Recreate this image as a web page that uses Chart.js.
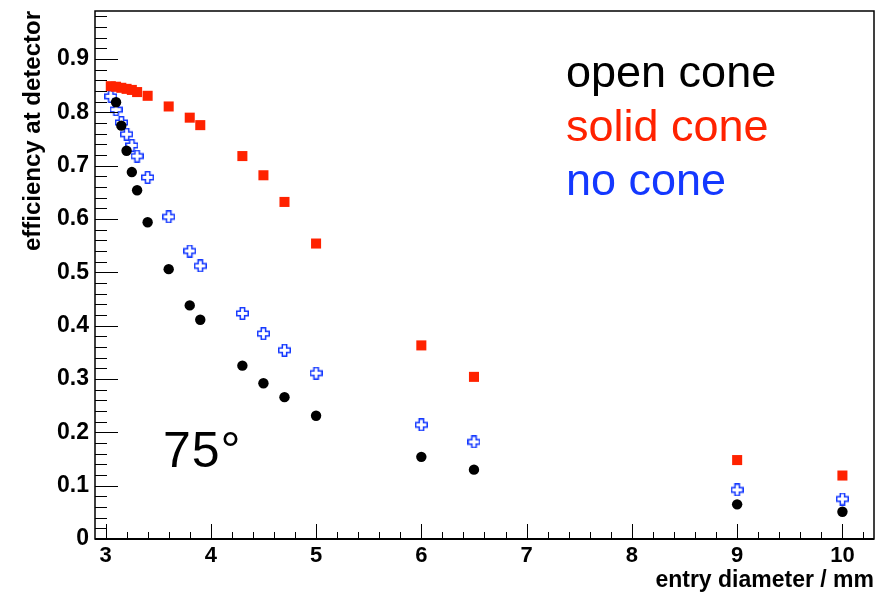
<!DOCTYPE html>
<html>
<head>
<meta charset="utf-8">
<script src="https://cdn.jsdelivr.net/npm/chart.js@4.4.1/dist/chart.umd.min.js"></script>
<style>
  html, body { margin: 0; padding: 0; background: #fff; }
  #wrap { width: 884px; height: 594px; }
</style>
</head>
<body>
<div id="wrap"><canvas id="eff"></canvas></div>
<script>
// entry diameter in mm
const diamSolid = [3.05, 3.1, 3.15, 3.2, 3.25, 3.3, 3.4, 3.6, 3.8, 3.9, 4.3, 4.5, 4.7, 5, 6, 6.5, 9, 10];
const diamOpen  = [3.1, 3.15, 3.2, 3.25, 3.3, 3.4, 3.6, 3.8, 3.9, 4.3, 4.5, 4.7, 5, 6, 6.5, 9, 10];
const diamNone  = [3.05, 3.1, 3.15, 3.2, 3.25, 3.3, 3.4, 3.6, 3.8, 3.9, 4.3, 4.5, 4.7, 5, 6, 6.5, 9, 10];

// efficiency at detector
const effSolid = [0.849, 0.848, 0.846, 0.844, 0.842, 0.838, 0.831, 0.811, 0.790, 0.776, 0.718, 0.682, 0.632, 0.554, 0.363, 0.304, 0.148, 0.119];
const effOpen  = [0.819, 0.775, 0.728, 0.688, 0.654, 0.594, 0.506, 0.438, 0.411, 0.325, 0.292, 0.266, 0.231, 0.154, 0.130, 0.065, 0.051];
const effNone  = [0.830, 0.805, 0.781, 0.759, 0.738, 0.718, 0.678, 0.604, 0.540, 0.512, 0.423, 0.385, 0.354, 0.311, 0.214, 0.182, 0.092, 0.075];

// labelled ticks
const xMajor = [3, 4, 5, 6, 7, 8, 9, 10];
const yMajor = [0, 0.1, 0.2, 0.3, 0.4, 0.5, 0.6, 0.7, 0.8, 0.9];

const seriesNames = ['open cone', 'solid cone', 'no cone'];
const angleLabel = '75°';

const RED = '#ff2200';
const BLUE = '#1438ff';
const FONT = '"Liberation Sans", Arial, sans-serif';

const pts = (xs, ys) => xs.map((x, i) => ({ x: x, y: ys[i] }));

// major ticks plus subdivisions between min and max
function tickList(major, sub, min, max) {
  const step = (major[1] - major[0]) / sub;
  const out = [];
  for (let k = Math.ceil((min - major[0]) / step - 1e-9); ; k++) {
    const v = +(major[0] + k * step).toFixed(6);
    if (v > max + 1e-9) break;
    const isMajor = major.some(m => Math.abs(m - v) < 1e-6);
    out.push({ value: v, major: isMajor });
  }
  return out;
}

// open cross marker (outlined plus sign)
function openCross(size, color) {
  const c = document.createElement('canvas');
  c.width = size; c.height = size;
  const g = c.getContext('2d');
  const a = size / 3;
  const o = 0.75;
  g.beginPath();
  g.moveTo(a, o); g.lineTo(2 * a, o); g.lineTo(2 * a, a); g.lineTo(size - o, a);
  g.lineTo(size - o, 2 * a); g.lineTo(2 * a, 2 * a); g.lineTo(2 * a, size - o);
  g.lineTo(a, size - o); g.lineTo(a, 2 * a); g.lineTo(o, 2 * a); g.lineTo(o, a);
  g.lineTo(a, a); g.closePath();
  g.fillStyle = '#fff';
  g.fill();
  g.lineWidth = 1.5;
  g.strokeStyle = color;
  g.stroke();
  return c;
}

// frame, inward tick marks and text labels
const framePlugin = {
  id: 'frame',
  afterDatasetsDraw(chart) {
    const { ctx, chartArea: a, scales } = chart;
    ctx.save();
    ctx.strokeStyle = '#000';
    ctx.lineWidth = 1;
    ctx.beginPath();
    scales.x.ticks.forEach(t => {
      const px = Math.round(scales.x.getPixelForValue(t.value)) + 0.5;
      const len = t.major ? 15 : 7;
      ctx.moveTo(px, a.bottom);
      ctx.lineTo(px, a.bottom - len);
    });
    scales.y.ticks.forEach(t => {
      const py = Math.round(scales.y.getPixelForValue(t.value)) + 0.5;
      const len = t.major ? 23 : 12;
      ctx.moveTo(a.left, py);
      ctx.lineTo(a.left + len, py);
    });
    ctx.stroke();
    ctx.lineWidth = 1.5;
    ctx.strokeRect(a.left, a.top, a.right - a.left, a.bottom - a.top);
    ctx.lineWidth = 2;
    ctx.beginPath();
    ctx.moveTo(a.left, a.bottom);
    ctx.lineTo(a.right, a.bottom);
    ctx.stroke();

    ctx.textBaseline = 'alphabetic';
    ctx.textAlign = 'left';
    ctx.font = '45px ' + FONT;
    const colors = ['#000', RED, BLUE];
    seriesNames.forEach((s, i) => {
      ctx.fillStyle = colors[i];
      ctx.fillText(s, 566, 87 + i * 54);
    });
    ctx.fillStyle = '#000';
    ctx.font = '50px ' + FONT;
    ctx.letterSpacing = '1px';
    ctx.fillText(angleLabel, 163, 467);
    ctx.restore();
  }
};

new Chart(document.getElementById('eff'), {
  type: 'scatter',
  data: {
    datasets: [
      {
        label: seriesNames[1],
        data: pts(diamSolid, effSolid),
        pointStyle: 'rect',
        pointRadius: 7.1,
        pointHoverRadius: 7.1,
        backgroundColor: RED,
        borderColor: RED,
        borderWidth: 0
      },
      {
        label: seriesNames[0],
        data: pts(diamOpen, effOpen),
        pointStyle: 'circle',
        pointRadius: 5.2,
        pointHoverRadius: 5.2,
        backgroundColor: '#000',
        borderColor: '#000',
        borderWidth: 0
      },
      {
        label: seriesNames[2],
        data: pts(diamNone, effNone),
        pointStyle: openCross(13, BLUE),
        backgroundColor: BLUE,
        borderColor: BLUE
      }
    ]
  },
  options: {
    responsive: true,
    maintainAspectRatio: false,
    animation: false,
    events: [],
    layout: {
      padding: { left: 0, top: 11, right: 10, bottom: 0 }
    },
    plugins: {
      legend: { display: false },
      tooltip: { enabled: false }
    },
    scales: {
      x: {
        type: 'linear',
        min: 2.9,
        max: 10.3,
        afterBuildTicks: s => { s.ticks = tickList(xMajor, 5, s.min, s.max); },
        afterFit: s => { s.height = 55; s.paddingLeft = 0; s.paddingRight = 0; },
        border: { display: false },
        grid: { display: false, drawTicks: false },
        ticks: {
          autoSkip: false,
          maxRotation: 0,
          padding: 4,
          color: '#000',
          font: { family: FONT, size: 22, weight: 'bold' },
          callback: (v, i, ticks) => ticks[i].major ? String(v) : ''
        },
        title: {
          display: true,
          text: 'entry diameter / mm',
          align: 'end',
          color: '#000',
          padding: { top: 0, bottom: 0 },
          font: { family: FONT, size: 23, weight: 'bold' }
        }
      },
      y: {
        type: 'linear',
        min: 0,
        max: 0.99,
        afterBuildTicks: s => { s.ticks = tickList(yMajor, 5, s.min, s.max); },
        afterFit: s => { s.width = 95; s.paddingTop = 0; s.paddingBottom = 0; },
        border: { display: false },
        grid: { display: false, drawTicks: false },
        ticks: {
          autoSkip: false,
          padding: 6,
          color: '#000',
          font: { family: FONT, size: 23, weight: 'bold' },
          callback: (v, i, ticks) => ticks[i].major ? (v === 0 ? '0' : v.toFixed(1)) : ''
        },
        title: {
          display: true,
          text: 'efficiency at detector',
          align: 'end',
          color: '#000',
          padding: { top: 19, bottom: 0 },
          font: { family: FONT, size: 24, weight: 'bold' }
        }
      }
    }
  },
  plugins: [framePlugin]
});
</script>
</body>
</html>
